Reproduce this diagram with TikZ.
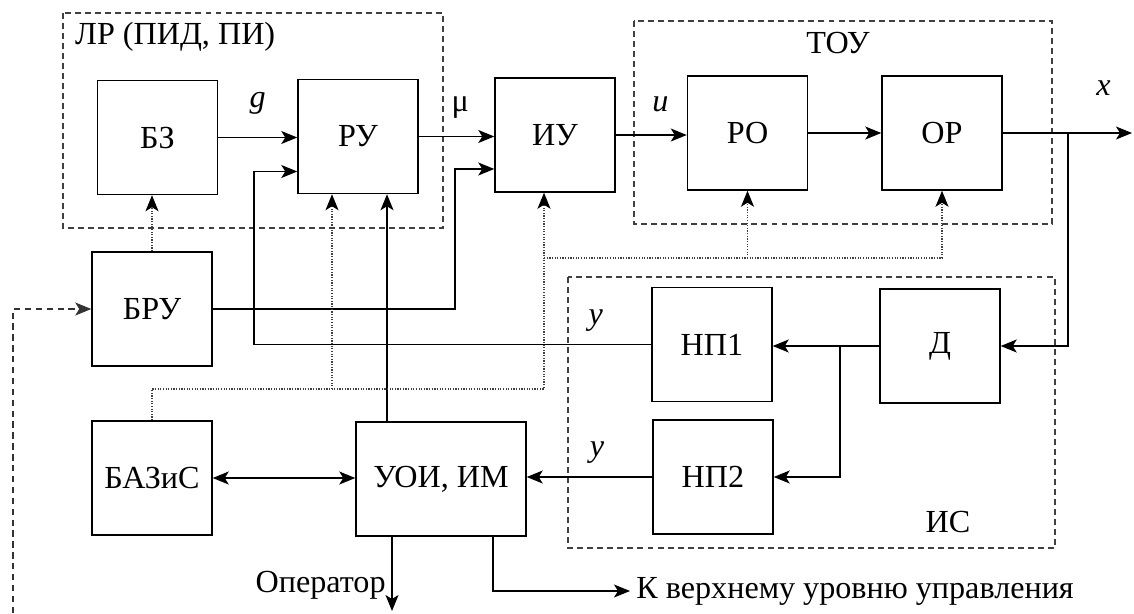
\documentclass[tikz,border=0pt]{standalone}
\usepackage{fontspec}
\setmainfont{Liberation Serif}
\newfontfamily\schemefont{Liberation Serif}
\usetikzlibrary{arrows.meta}

\begin{document}
\begin{tikzpicture}[
  x=0.02cm, y=-0.02cm,
  every node/.style={font=\schemefont\fontsize{18.3}{22}\selectfont},
  box/.style={draw, line width=0.85pt, minimum width=2.4cm, minimum height=2.28cm, inner sep=0pt},
  arr/.style={-{Stealth[length=3.2mm, width=2.6mm, inset=0.8mm]}, line width=0.6pt},
  biarr/.style={{Stealth[length=3.2mm, width=2.6mm, inset=0.8mm]}-{Stealth[length=3.2mm, width=2.6mm, inset=0.8mm]}, line width=0.6pt},
  dotarr/.style={-{Stealth[length=3.2mm, width=2.6mm, inset=0.8mm, color=black]}, line width=0.6pt, draw=black!75, dash pattern=on 0.7pt off 0.8pt},
  dasharr/.style={arr, draw=black!80, dash pattern=on 3.6pt off 2.6pt},
  grp/.style={draw=black!75, line width=0.65pt, dash pattern=on 3.4pt off 2.3pt},
  lbl/.style={anchor=base, inner sep=0pt}
]
  \useasboundingbox (0,0) rectangle (1134,613);

  % groups
  \draw[grp] (63,13) rectangle (443,228);
  \node[anchor=west] (lrlbl) at (69,37) {ЛР (ПИД, ПИ)};
  \draw[grp] (634,21) rectangle (1052,224);
  \node (toulbl) at (838,43) {ТОУ};
  \draw[grp] (568,277) rectangle (1055,548);
  \node (islbl) at (948,522) {ИС};

  % blocks
  \node[box] (bz) at (157.5,137.5) {БЗ};
  \node[box] (ru) at (358,136.5) {РУ};
  \node[box] (iu) at (555,135) {ИУ};
  \node[box] (ro) at (747.5,133) {РО};
  \node[box] (obj) at (942,133) {ОР};
  \node[box] (bru) at (152,309) {БРУ};
  \node[box] (np1) at (712,344.5) {НП1};
  \node[box] (d) at (940,346) {Д};
  \node[box] (np2) at (713,477) {НП2};
  \node[box] (bazis) at (152,478) {БАЗиС};
  \node[box, minimum width=3.4cm] (uoi) at (441,479) {УОИ, ИМ};

  % helper points
  \coordinate (xout) at (1132,133);
  \coordinate (xbr) at (1068,133);
  \coordinate (nbr) at (840,0);
  \coordinate (fb) at (254,0);
  \coordinate (ib) at (455,0);
  \coordinate (dl) at (0,389);
  \coordinate (du) at (0,258);
  \coordinate (inp) at (13,613);
  \coordinate (bot) at (0,611);
  \coordinate (up) at (630,591);

  % main path
  \draw[arr] (bz.east) -- node[lbl, yshift=0.6cm] {\textit{g}} (bz.east -| ru.west);
  \draw[arr] (ru.east) -- node[lbl, pos=0.55, yshift=0.5cm] {μ} (ru.east -| iu.west);
  \draw[arr] (iu.east) -- node[lbl, pos=0.63, yshift=0.48cm] {\textit{u}} (iu.east -| ro.west);
  \draw[arr] (ro.east) -- (ro.east -| obj.west);
  \draw[arr] (obj.east) -- node[lbl, pos=0.78, yshift=0.76cm] {\textit{x}} (xout);

  % measurement
  \draw[arr] (xbr) |- (d.east);
  \draw[arr] (d.west) -- (d.west -| np1.east);
  \draw[arr] (d.west -| nbr) |- (np2.east);
  \draw[arr] (np1.west) -- node[lbl, pos=0.14, yshift=0.4cm] {\textit{y}} (np1.west -| fb) |- ([yshift=-0.7cm]ru.west);
  \draw[arr] (np2.west) -- node[lbl, pos=0.44, yshift=0.42cm] {\textit{y}} (np2.west -| uoi.east);

  % control and service
  \draw[biarr] (bazis.east) -- (bazis.east -| uoi.west);
  \draw[arr] ([xshift=-1.08cm]uoi.north) -- ([xshift=-1.08cm]uoi.north |- ru.south);
  \draw[arr] (bru.east) -- (bru.east -| ib) |- ([yshift=-0.68cm]iu.west);
  \draw[dasharr] (inp) |- (bru.west);
  \draw[dotarr] (bru.north) -- (bru.north |- bz.south);
  \draw[dotarr] (bazis.north) |- ([xshift=-0.22cm]iu.south |- dl) -- ([xshift=-0.22cm]iu.south);
  \draw[dotarr] ([xshift=-0.52cm]ru.south |- dl) -- ([xshift=-0.52cm]ru.south);
  \draw[dotarr] ([xshift=-0.22cm]iu.south |- du) -| (obj.south);
  \draw[dotarr] (ro.south |- du) -- (ro.south);

  % outputs
  \draw[arr] ([xshift=-0.98cm]uoi.south) -- node[pos=0.65, left] {Оператор} ([xshift=-0.98cm]uoi.south |- bot);
  \draw[arr] ([xshift=1.04cm]uoi.south) |- (up) node[right] {К верхнему уровню управления};
\end{tikzpicture}
\end{document}
